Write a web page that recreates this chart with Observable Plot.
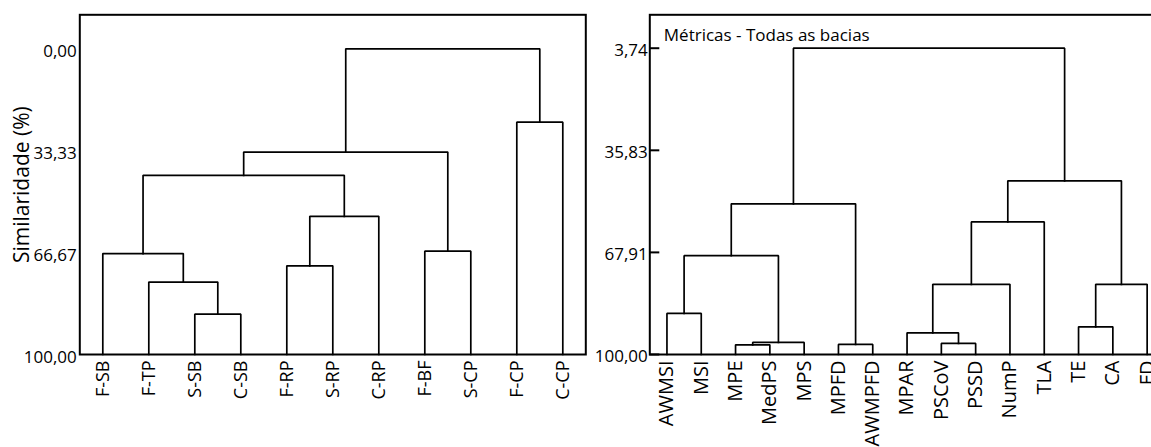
<!DOCTYPE html>
<html>
<head>
<meta charset="utf-8">
<script src="https://cdn.jsdelivr.net/npm/d3@7"></script>
<script src="https://cdn.jsdelivr.net/npm/@observablehq/plot@0.6"></script>
<style>
  html, body { margin: 0; padding: 0; background: #fff; }
  #wrap { position: relative; width: 1151px; height: 447px; overflow: hidden; background: #fff; }
  #wrap > div { position: absolute; top: 0; }
  #left { left: 0; }
  #right { left: 588px; }
  svg { max-width: none !important; }
</style>
</head>
<body>
<div id="wrap"><div id="left"></div><div id="right"></div></div>
<script>
// ---------- Left dendrogram (sites) ----------
const leftLeaves = ["F-SB","F-TP","S-SB","C-SB","F-RP","S-RP","C-RP","F-BF","S-CP","F-CP","C-CP"];
// merges: [childA, childB, similarity]; "#k" refers to the k-th merge
const leftMerges = [
  ["S-SB","C-SB",86.8],
  ["F-TP","#0",76.3],
  ["F-SB","#1",67.0],
  ["F-RP","S-RP",71.0],
  ["#3","C-RP",54.8],
  ["#2","#4",41.4],
  ["F-BF","S-CP",66.2],
  ["#5","#6",33.8],
  ["F-CP","C-CP",24.0],
  ["#7","#8",0.0]
];
const leftTicks = [0, 33.33, 66.67, 100];
const leftYLabel = "Similaridade (%)";

// ---------- Right dendrogram (metrics) ----------
const rightLeaves = ["AWMSI","MSI","MPE","MedPS","MPS","MPFD","AWMPFD","MPAR","PSCoV","PSSD","NumP","TLA","TE","CA","FD"];
const rightMerges = [
  ["MPE","MedPS",96.97],
  ["#0","MPS",96.22],
  ["MPFD","AWMPFD",96.84],
  ["PSCoV","PSSD",96.53],
  ["MPAR","#3",93.19],
  ["TE","CA",91.3],
  ["AWMSI","MSI",87.08],
  ["#4","NumP",77.95],
  ["#5","FD",77.95],
  ["#6","#1",68.94],
  ["#7","TLA",58.32],
  ["#9","#2",52.65],
  ["#10","#8",45.41],
  ["#11","#12",3.74]
];
const rightTicks = [3.74, 35.83, 67.91, 100];
const rightTitle = "Métricas - Todas as bacias";

// ---------- helpers ----------
function brackets(leaves, merges) {
  const pos = new Map(leaves.map((l, i) => [l, {x: i, h: 100}]));
  const pts = [];
  merges.forEach(([a, b, h], k) => {
    const A = pos.get(a), B = pos.get(b);
    pts.push({id: k, x: A.x, y: A.h}, {id: k, x: A.x, y: h}, {id: k, x: B.x, y: h}, {id: k, x: B.x, y: B.h});
    pos.set("#" + k, {x: (A.x + B.x) / 2, h});
  });
  return pts;
}
const fmt = d => d.toFixed(2).replace(".", ",");
const INK = "#000";
const FONT = "'Open Sans', sans-serif";
const STYLE = {fontFamily: FONT, fontSize: "17px", fontWeight: 500, background: "transparent", color: INK, overflow: "visible"};

// ---------- left plot ----------
const leftPlot = Plot.plot({
  width: 588, height: 447,
  marginLeft: 79.3, marginRight: 2.7, marginTop: 14.3, marginBottom: 93,
  style: STYLE,
  x: {domain: [-0.5, leftLeaves.length - 0.5]},
  y: {domain: [-11.12, 100], reverse: true},
  marks: [
    Plot.line(brackets(leftLeaves, leftMerges), {x: "x", y: "y", z: "id", stroke: INK, strokeWidth: 1.7, strokeLinejoin: "miter", strokeLinecap: "square"}),
    Plot.frame({stroke: INK, strokeWidth: 2}),
    Plot.axisY(leftTicks, {tickSize: 0, tickPadding: 3, tickFormat: fmt, fontSize: 17, dy: 3, label: null}),
    Plot.axisX(d3.range(leftLeaves.length), {tickSize: 0, tickPadding: 6, tickRotate: -90, tickFormat: i => leftLeaves[i], fontSize: 18, label: null}),
    Plot.text([leftYLabel], {frameAnchor: "left", rotate: -90, dx: -51, lineAnchor: "bottom", textAnchor: "middle", fontSize: 21, fill: INK})
  ]
});
document.getElementById("left").appendChild(leftPlot);

// ---------- right plot ----------
const rightPlot = Plot.plot({
  width: 580, height: 447,
  marginLeft: 61.3, marginRight: 4.2, marginTop: 14.3, marginBottom: 93,
  style: STYLE,
  x: {domain: [-0.5, rightLeaves.length - 0.5]},
  y: {domain: [-6.76, 100], reverse: true},
  marks: [
    Plot.line(brackets(rightLeaves, rightMerges), {x: "x", y: "y", z: "id", stroke: INK, strokeWidth: 1.7, strokeLinejoin: "miter", strokeLinecap: "square"}),
    Plot.frame({stroke: INK, strokeWidth: 2}),
    Plot.axisY(rightTicks, {tickSize: -10, tickFormat: () => "", strokeWidth: 2, label: null}),
    Plot.axisY(rightTicks, {tickSize: 0, tickPadding: 2, tickFormat: fmt, fontSize: 17, dy: 2, label: null}),
    Plot.axisX(d3.range(rightLeaves.length), {tickSize: 0, tickPadding: 6, tickRotate: -90, tickFormat: i => rightLeaves[i], fontSize: 20, label: null}),
    Plot.text([rightTitle], {frameAnchor: "top-left", dx: 14, dy: 26, textAnchor: "start", lineAnchor: "bottom", fontSize: 17, fill: INK})
  ]
});
document.getElementById("right").appendChild(rightPlot);
</script>
</body>
</html>
